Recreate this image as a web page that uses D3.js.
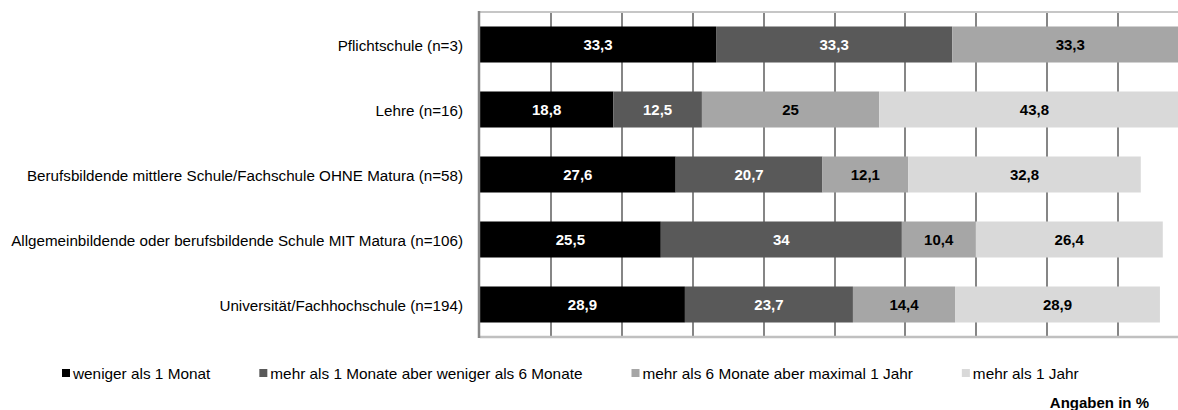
<!DOCTYPE html>
<html>
<head>
<meta charset="utf-8">
<script src="https://cdn.jsdelivr.net/npm/d3@7"></script>
<style>
  html, body { margin: 0; padding: 0; background: #fff; }
  svg { display: block; font-family: "Liberation Sans", Arial, sans-serif; }
</style>
</head>
<body>
<svg id="chart" width="1178" height="410"></svg>
<script>
// Education groups (top to bottom)
const categories = [
  "Pflichtschule (n=3)",
  "Lehre (n=16)",
  "Berufsbildende mittlere Schule/Fachschule OHNE Matura (n=58)",
  "Allgemeinbildende oder berufsbildende Schule MIT Matura (n=106)",
  "Universität/Fachhochschule (n=194)"
];

// Duration series
const seriesNames = [
  "weniger als 1 Monat",
  "mehr als 1 Monate aber weniger als 6 Monate",
  "mehr als 6 Monate aber maximal 1 Jahr",
  "mehr als 1 Jahr"
];

// Shares in percent, one array per series, aligned with categories
const lessThan1Month   = [33.3, 18.8, 27.6, 25.5, 28.9];
const oneToSixMonths   = [33.3, 12.5, 20.7, 34.0, 23.7];
const sixMonthsToYear  = [33.3, 25.0, 12.1, 10.4, 14.4];
const moreThan1Year    = [null, 43.8, 32.8, 26.4, 28.9];

const xTicks = [0, 10, 20, 30, 40, 50, 60, 70, 80, 90, 100];
const unitNote = "Angaben in %";

const seriesValues = [lessThan1Month, oneToSixMonths, sixMonthsToYear, moreThan1Year];
const colors = ["#000000", "#595959", "#a6a6a6", "#d9d9d9"];
const labelColors = ["#ffffff", "#ffffff", "#000000", "#000000"];

const svg = d3.select("#chart");
const plot = { left: 480, right: 1189, top: 12, bottom: 337 };

const x = d3.scaleLinear().domain([0, 100]).range([plot.left, plot.right]);
const y = d3.scaleBand().domain(categories).range([plot.top, plot.bottom]).paddingInner(0.446).paddingOuter(0.223);

// Build stacked rows
const rows = categories.map((c, i) => {
  const o = { cat: c };
  seriesNames.forEach((s, j) => { o[s] = seriesValues[j][i] || 0; });
  return o;
});
const stacked = d3.stack().keys(seriesNames)(rows);

// Vertical gridlines
svg.append("g")
  .selectAll("line")
  .data(xTicks.filter(t => t > 0))
  .join("line")
  .attr("x1", d => Math.round(x(d))).attr("x2", d => Math.round(x(d)))
  .attr("y1", plot.top).attr("y2", plot.bottom)
  .attr("stroke", "#868686").attr("stroke-width", 2);

// Top frame line
svg.append("line")
  .attr("x1", plot.left).attr("x2", 1178)
  .attr("y1", plot.top).attr("y2", plot.top)
  .attr("stroke", "#c6c6c6").attr("stroke-width", 2);

// Bars
const layer = svg.append("g").selectAll("g")
  .data(stacked)
  .join("g")
  .attr("fill", (d, i) => colors[i]);

layer.selectAll("rect")
  .data(d => d.map(p => ({ p, key: d.key })))
  .join("rect")
  .attr("x", d => x(d.p[0]))
  .attr("y", d => y(d.p.data.cat))
  .attr("width", d => x(d.p[1]) - x(d.p[0]))
  .attr("height", y.bandwidth());

// Value labels
stacked.forEach((s, i) => {
  svg.append("g").selectAll("text")
    .data(s.filter(p => p[1] - p[0] > 0))
    .join("text")
    .attr("x", p => (x(p[0]) + x(p[1])) / 2)
    .attr("y", p => y(p.data.cat) + y.bandwidth() / 2)
    .attr("dy", "0.36em")
    .attr("text-anchor", "middle")
    .attr("font-size", 15)
    .attr("font-weight", "bold")
    .attr("fill", labelColors[i])
    .text(p => String(+(p[1] - p[0]).toFixed(1)).replace(".", ","));
});

// Bottom axis line
svg.append("line")
  .attr("x1", plot.left).attr("x2", 1178)
  .attr("y1", plot.bottom).attr("y2", plot.bottom)
  .attr("stroke", "#c0c0c0").attr("stroke-width", 2.5);

// Category axis
const yAxis = svg.append("g")
  .attr("transform", `translate(${plot.left - 1},0)`)
  .call(d3.axisLeft(y).tickSize(0).tickPadding(16));
yAxis.select(".domain").attr("stroke", "#888888").attr("stroke-width", 2.5)
  .attr("d", `M0,${plot.top - 1}V${plot.bottom + 1}`);
yAxis.selectAll("text")
  .attr("font-family", "'Liberation Sans', Arial, sans-serif")
  .attr("font-size", 15.2)
  .attr("fill", "#000")
  .attr("dy", "0.45em");

// Legend
const legend = svg.append("g").attr("transform", "translate(62,373)");
let lx = 0;
seriesNames.forEach((name, i) => {
  const g = legend.append("g").attr("transform", `translate(${lx},0)`);
  g.append("rect").attr("x", 0).attr("y", -4).attr("width", 8).attr("height", 8).attr("fill", colors[i]);
  const t = g.append("text").attr("x", 11).attr("y", 0).attr("dy", "0.36em")
    .attr("font-size", 15.35).attr("fill", "#000").text(name);
  lx += 11 + t.node().getComputedTextLength() + 49;
});

// Unit note
svg.append("text")
  .attr("x", 1149).attr("y", 403).attr("dy", "0.36em")
  .attr("text-anchor", "end")
  .attr("font-size", 15).attr("font-weight", "bold")
  .text(unitNote);
</script>
</body>
</html>
